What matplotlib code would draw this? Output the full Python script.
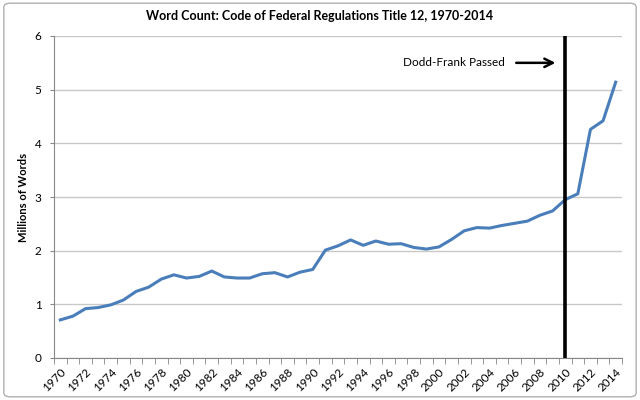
import numpy as np
import matplotlib.pyplot as plt
from matplotlib.patches import FancyBboxPatch

plt.rcParams["font.family"] = ["Lato", "DejaVu Sans"]

YEARS = list(range(1970, 2015))
WORDS_MILLIONS = [
    0.71, 0.78, 0.92, 0.94, 0.99, 1.08, 1.24, 1.32, 1.47, 1.55,
    1.49, 1.52, 1.62, 1.51, 1.49, 1.49, 1.57, 1.59, 1.51, 1.60,
    1.65, 2.01, 2.09, 2.20, 2.10, 2.18, 2.12, 2.13, 2.06, 2.03,
    2.07, 2.21, 2.37, 2.43, 2.42, 2.47, 2.51, 2.55, 2.66, 2.74,
    2.95, 3.06, 4.26, 4.42, 5.14,
]
DODD_FRANK_YEAR = 2010

fig = plt.figure(figsize=(6.4, 4.0), dpi=100)
ax = fig.add_axes([54 / 640, 1 - 358 / 400, 568 / 640, 322 / 400])

x = np.arange(len(YEARS))
ax.plot(x, WORDS_MILLIONS, color="#4a7ebb", linewidth=2.2, solid_joinstyle="round")

# Dodd-Frank marker
xi = YEARS.index(DODD_FRANK_YEAR)
ax.axvline(xi, color="black", linewidth=2.6, zorder=3)
ax.annotate("", xy=(xi - 0.55, 5.5), xytext=(xi - 4.1, 5.5),
            arrowprops=dict(arrowstyle="->", color="black", lw=1.8,
                            mutation_scale=15))
ax.text(xi - 4.8, 5.5, "Dodd-Frank Passed", ha="right", va="center", fontsize=8.5)

ax.set_xlim(-0.5, len(YEARS) - 0.5)
ax.set_ylim(0, 6)
ax.set_yticks(range(0, 7))
ax.yaxis.grid(True, color="#c8c8c8", linewidth=1)
ax.set_axisbelow(True)

ax.set_xticks(x[::2])
ax.set_xticklabels([str(y) for y in YEARS[::2]], rotation=45, ha="right",
                   rotation_mode="anchor", fontsize=8.5)
ax.set_xticks(np.arange(-0.5, len(YEARS), 1), minor=True)
ax.tick_params(axis="x", which="major", length=0, pad=6)
ax.tick_params(axis="x", which="minor", length=4, color="#888888", direction="out")
ax.tick_params(axis="y", length=3, color="#888888", labelsize=8.5, pad=6)

for side in ("top", "right"):
    ax.spines[side].set_visible(False)
ax.spines["left"].set_color("#888888")
ax.spines["bottom"].set_color("#888888")

ax.set_ylabel("Millions of Words", fontsize=8, fontweight="bold", labelpad=4)
fig.text(0.5, 1 - 16 / 400, "Word Count: Code of Federal Regulations Title 12, 1970-2014",
         ha="center", va="center", fontsize=9, fontweight="bold")

border = FancyBboxPatch((0.006, 0.008), 0.988, 0.984, boxstyle="round,pad=0,rounding_size=0.01",
                        transform=fig.transFigure, fill=False, edgecolor="#b0b0b0", linewidth=1)
fig.patches.append(border)

fig.savefig("out.png", dpi=100)
